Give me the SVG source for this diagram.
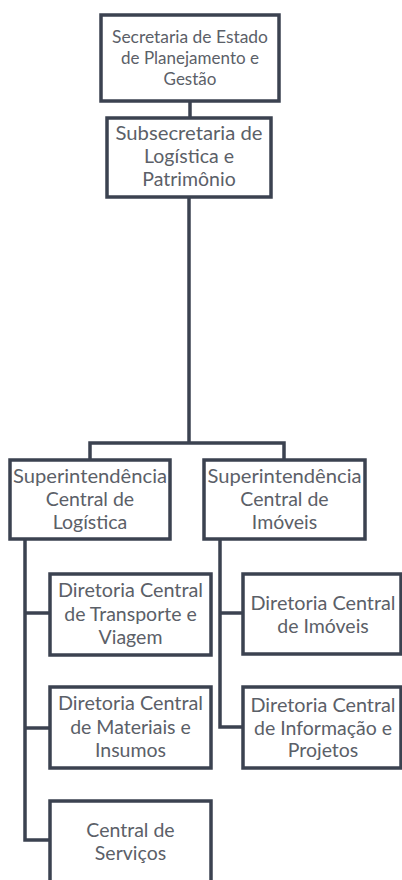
<svg xmlns="http://www.w3.org/2000/svg" width="402" height="880" viewBox="0 0 402 880">
  <style>
    .box { fill: #ffffff; stroke: #3b4250; stroke-width: 3.5; }
    .link { fill: none; stroke: #3b4250; stroke-width: 3.5; stroke-linejoin: miter; }
    text { font-family: Lato, "Open Sans", "Liberation Sans", sans-serif; fill: #5b6068; text-anchor: middle; }
    .t1 { font-size: 17px; }
    .t2 { font-size: 19.5px; }
  </style>
  <rect width="402" height="880" fill="#ffffff"/>

  <!-- connectors -->
  <g id="connectors">
    <path class="link" d="M190 101 V118"/>
    <path class="link" d="M189 197 V443"/>
    <path class="link" d="M90 460 V443 H284 V460"/>
    <path class="link" d="M25 539 V840 H50"/>
    <path class="link" d="M25 613 H50"/>
    <path class="link" d="M25 728 H50"/>
    <path class="link" d="M220 539 V727 H243"/>
    <path class="link" d="M220 613 H243"/>
  </g>

  <g id="secretaria">
    <rect class="box" x="101" y="15" width="178" height="86"/>
    <text class="t1" x="190" y="43" textLength="156" lengthAdjust="spacingAndGlyphs">Secretaria de Estado</text>
    <text class="t1" x="190" y="64">de Planejamento e</text>
    <text class="t1" x="190" y="85">Gestão</text>
  </g>

  <g id="subsecretaria">
    <rect class="box" x="107" y="118" width="164" height="79"/>
    <text class="t2" x="189" y="140" textLength="147" lengthAdjust="spacingAndGlyphs">Subsecretaria de</text>
    <text class="t2" x="189" y="163">Logística e</text>
    <text class="t2" x="189" y="186">Patrimônio</text>
  </g>

  <g id="sup-logistica">
    <rect class="box" x="10" y="460" width="160" height="79"/>
    <text class="t2" x="90" y="483" textLength="154" lengthAdjust="spacingAndGlyphs">Superintendência</text>
    <text class="t2" x="90" y="506">Central de</text>
    <text class="t2" x="90" y="529">Logística</text>
  </g>

  <g id="sup-imoveis">
    <rect class="box" x="204" y="460" width="161" height="79"/>
    <text class="t2" x="284.5" y="483" textLength="154" lengthAdjust="spacingAndGlyphs">Superintendência</text>
    <text class="t2" x="284.5" y="506">Central de</text>
    <text class="t2" x="284.5" y="529">Imóveis</text>
  </g>

  <g id="dir-transporte">
    <rect class="box" x="50" y="574" width="161" height="81"/>
    <text class="t2" x="130.5" y="597" textLength="145" lengthAdjust="spacingAndGlyphs">Diretoria Central</text>
    <text class="t2" x="130.5" y="621">de Transporte e</text>
    <text class="t2" x="130.5" y="644">Viagem</text>
  </g>

  <g id="dir-materiais">
    <rect class="box" x="50" y="687" width="161" height="81"/>
    <text class="t2" x="130.5" y="710" textLength="145" lengthAdjust="spacingAndGlyphs">Diretoria Central</text>
    <text class="t2" x="130.5" y="734">de Materiais e</text>
    <text class="t2" x="130.5" y="757">Insumos</text>
  </g>

  <g id="central-servicos">
    <rect class="box" x="50" y="801" width="161" height="90"/>
    <text class="t2" x="130.5" y="837">Central de</text>
    <text class="t2" x="130.5" y="860">Serviços</text>
  </g>

  <g id="dir-imoveis">
    <rect class="box" x="243" y="574" width="158" height="80"/>
    <text class="t2" x="323" y="610" textLength="145" lengthAdjust="spacingAndGlyphs">Diretoria Central</text>
    <text class="t2" x="323" y="633">de Imóveis</text>
  </g>

  <g id="dir-informacao">
    <rect class="box" x="243" y="687" width="158" height="81"/>
    <text class="t2" x="323" y="712" textLength="145" lengthAdjust="spacingAndGlyphs">Diretoria Central</text>
    <text class="t2" x="323" y="735">de Informação e</text>
    <text class="t2" x="323" y="757">Projetos</text>
  </g>
</svg>
